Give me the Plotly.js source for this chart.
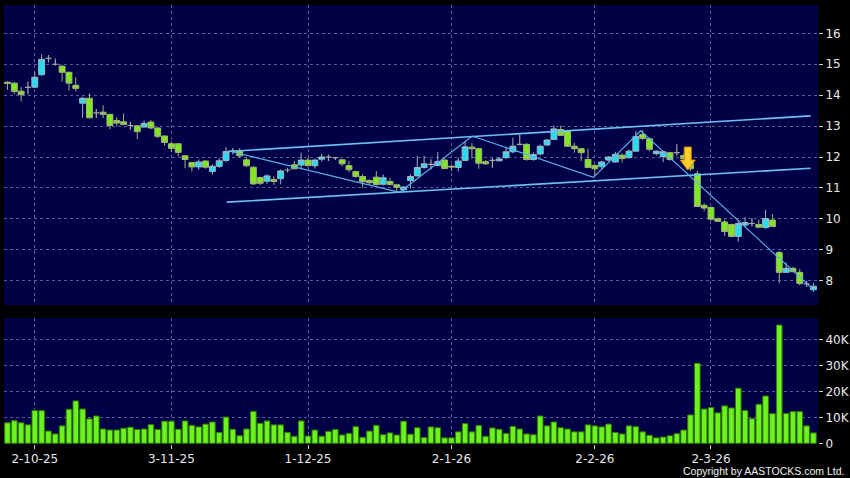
<!DOCTYPE html>
<html>
<head>
<meta charset="utf-8">
<script src="https://cdn.plot.ly/plotly-3.0.1.min.js"></script>
<style>html,body{margin:0;padding:0;background:#000;}#chart{width:850px;height:478px;}</style>
</head>
<body>
<div id="chart"></div>
<script>
// trading-day index 0..118 (25 Sep 2025 .. 23 Mar 2026)
const openP = [14.42,14.39,14.13,14.25,14.26,14.66,15.19,15.00,14.94,14.74,14.32,13.74,13.90,13.43,13.45,13.38,13.18,13.14,13.02,13.01,
12.97,13.13,12.94,12.68,12.43,12.43,12.04,11.82,11.68,11.87,11.53,11.70,11.89,12.20,12.20,11.91,11.67,11.34,11.22,11.27,
11.30,11.58,11.75,11.74,11.90,11.72,11.93,12.00,11.98,11.91,11.72,11.53,11.37,11.24,11.35,11.12,11.21,11.10,10.94,11.24,
11.39,11.66,11.76,11.73,11.90,11.70,11.66,11.89,12.32,12.27,11.85,11.89,11.88,11.98,12.17,12.41,12.41,11.92,12.10,12.39,
12.57,12.89,12.84,12.35,12.27,11.92,11.73,11.69,11.90,11.84,12.06,11.98,12.19,12.73,12.59,12.11,12.02,12.14,12.14,12.05,
11.88,11.46,10.44,10.37,10.00,9.90,9.82,9.43,9.80,9.85,9.82,9.72,9.96,8.91,8.27,8.40,8.27,7.90,7.71];
const highP = [14.45,14.42,14.26,14.44,14.76,15.32,15.30,15.19,14.98,14.76,14.58,13.95,14.06,13.55,13.67,13.40,13.29,13.41,13.13,13.03,
13.18,13.20,12.96,12.70,12.50,12.45,12.06,11.84,11.92,11.90,11.76,11.96,12.32,12.29,12.29,12.00,11.70,11.36,11.44,11.38,
11.60,11.65,11.87,12.14,11.98,11.95,12.10,12.08,12.00,11.94,11.87,11.56,11.45,11.28,11.55,11.44,11.33,11.13,11.05,11.44,
12.03,12.03,11.93,12.17,11.95,11.75,11.98,12.52,12.45,12.30,11.90,11.97,12.00,12.30,12.62,12.73,12.45,12.15,12.40,12.58,
13.02,13.02,12.86,12.46,12.30,12.27,11.76,11.88,12.03,12.17,12.12,12.25,12.84,12.87,12.63,12.22,12.20,12.17,12.41,12.10,
11.95,11.55,10.50,10.40,10.05,9.98,9.84,9.93,10.06,10.02,9.97,10.29,10.15,8.96,8.59,8.45,8.38,8.00,7.92];
const lowP = [14.17,14.03,13.80,14.03,14.24,14.63,15.06,14.96,14.44,14.15,14.12,13.27,13.25,13.26,13.26,12.90,12.99,13.03,12.88,12.58,
12.95,12.90,12.61,12.37,12.16,12.02,11.64,11.53,11.58,11.62,11.43,11.64,11.83,12.08,11.97,11.68,11.09,11.09,11.13,11.10,
11.12,11.50,11.60,11.60,11.70,11.63,11.86,11.87,11.90,11.70,11.51,11.33,11.00,11.10,11.08,11.08,11.08,10.90,10.87,10.98,
11.37,11.62,11.60,11.70,11.60,11.54,11.54,11.87,11.95,11.62,11.75,11.65,11.85,11.94,12.12,12.38,11.88,11.88,12.05,12.35,
12.55,12.68,12.33,12.14,11.87,11.64,11.39,11.60,11.86,11.82,11.82,11.95,12.17,12.55,12.20,12.05,11.84,11.88,12.05,11.90,
11.55,10.38,10.25,9.94,9.90,9.45,9.40,9.26,9.73,9.75,9.70,9.67,9.74,7.91,8.25,8.28,7.85,7.80,7.63];
const closeP = [14.38,14.12,14.02,14.25,14.58,15.16,15.19,15.00,14.74,14.39,14.22,13.90,13.27,13.43,13.38,13.02,13.10,13.05,13.02,12.82,
13.09,12.94,12.67,12.47,12.28,12.15,11.92,11.68,11.84,11.67,11.70,11.88,12.18,12.20,12.04,11.72,11.13,11.15,11.39,11.21,
11.55,11.58,11.62,11.90,11.72,11.90,12.00,12.00,11.98,11.78,11.59,11.37,11.20,11.17,11.11,11.33,11.11,11.02,11.03,11.37,
11.66,11.78,11.76,11.85,11.63,11.68,11.87,12.33,12.27,11.80,11.78,11.89,11.94,12.17,12.35,12.41,11.92,12.08,12.35,12.55,
12.91,12.70,12.35,12.27,12.14,11.66,11.62,11.84,12.00,12.09,11.95,12.19,12.66,12.60,12.25,12.19,12.17,11.92,12.14,11.95,
11.62,10.40,10.35,9.99,9.92,9.59,9.43,9.85,9.88,9.85,9.73,10.01,9.75,8.27,8.40,8.29,7.91,7.90,7.82];
const volumeK = [7.9,8.7,7.9,7.1,12.6,12.6,4.7,3.6,6.7,13.1,16.3,13.2,9.4,10.5,5.5,5.1,5.1,5.8,6.2,5.3,
5.5,7.2,5.3,8.5,8.5,5.4,8.6,6.9,6.3,7.4,8.2,4.2,10.1,5.4,2.9,5.5,12.3,7.7,8.6,7.1,
7.1,4.2,2.7,8.6,2.8,5.1,2.7,4.6,5.3,3.2,3.8,6.4,2.3,4.7,6.9,3.3,4.0,3.2,8.5,3.5,
6.0,2.2,6.3,6.0,2.1,2.1,4.4,7.6,4.4,6.9,2.7,5.9,5.4,3.8,6.5,5.5,3.6,3.3,10.5,6.7,
8.2,6.0,5.5,4.4,4.4,7.1,6.7,6.3,7.4,4.2,3.6,6.7,6.4,4.4,3.1,2.1,2.4,2.9,3.7,5.1,
10.9,30.8,13.2,13.8,11.7,14.4,13.6,21.2,12.6,9.5,15.0,18.2,11.4,45.5,11.5,12.2,12.2,6.7,4.0];
const tickIdx = [4,24,44,65,86,103];
const tickLabels = ['2-10-25','3-11-25','1-12-25','2-1-26','2-2-26','2-3-26'];
const priceTicks = [8,9,10,11,12,13,14,15,16];
const volTicks = [0,10000,20000,30000,40000];
const volTickLabels = ['0','10K','20K','30K','40K'];
// drawn trend lines (index, price)
const channelUpperX = [32.3,117.6], channelUpperY = [12.18,13.33];
const channelLowerX = [32.1,117.6], channelLowerY = [10.54,11.635];
const zigzagX = [32.4,57.4,68.05,85.8,92.7,117.8];
const zigzagY = [12.195,10.86,12.68,11.344,12.85,7.75];
const signalIdx = 99.6, signalPrice = 11.58;

const idx = openP.map((_, i) => i);
const isDoji = i => openP[i] === closeP[i];
const pick = (arr, f) => idx.filter(f).map(i => arr[i]);
const notD = i => !isDoji(i);

const traces = [
  {type:'bar', x: idx, y: volumeK.map(v => v*1000), yaxis:'y2', width:0.82,
   marker:{color:'#6cf21c', line:{color:'#2f7a06', width:1}}, hoverinfo:'skip'},
  {type:'candlestick', x: idx.filter(notD), open: pick(openP,notD), high: pick(highP,notD),
   low: pick(lowP,notD), close: pick(closeP,notD), yaxis:'y',
   increasing:{fillcolor:'#26dcef', line:{color:'#9ab8c4', width:1}},
   decreasing:{fillcolor:'#7fe81e', line:{color:'#9fb676', width:1}}, whiskerwidth:0, hoverinfo:'skip'},
  {type:'candlestick', x: idx.filter(isDoji), open: pick(openP,isDoji), high: pick(highP,isDoji),
   low: pick(lowP,isDoji), close: pick(closeP,isDoji), yaxis:'y',
   increasing:{fillcolor:'#a0a0a0', line:{color:'#a8a8a8', width:1.2}},
   decreasing:{fillcolor:'#a0a0a0', line:{color:'#a8a8a8', width:1.2}}, whiskerwidth:0, hoverinfo:'skip'},
  {type:'scatter', mode:'lines', x: channelUpperX, y: channelUpperY, yaxis:'y', line:{color:'#6cc0f4', width:1.6}, hoverinfo:'skip'},
  {type:'scatter', mode:'lines', x: channelLowerX, y: channelLowerY, yaxis:'y', line:{color:'#6cc0f4', width:1.6}, hoverinfo:'skip'},
  {type:'scatter', mode:'lines', x: zigzagX, y: zigzagY, yaxis:'y', line:{color:'#5ab4ec', width:1.1}, hoverinfo:'skip'}
];

const gridC = 'rgba(115,115,165,0.8)';
const font = {family:'DejaVu Sans, Verdana, sans-serif', size:12, color:'#e8e8e8'};
const layout = {
  width:850, height:478, paper_bgcolor:'#000000', plot_bgcolor:'#000046',
  margin:{l:4, r:32, t:5, b:34}, showlegend:false, hovermode:false,
  boxgap:0.08, boxgroupgap:0.06,
  font: font,
  xaxis:{range:[-0.51,118.67], anchor:'y2', tickmode:'array', tickvals:tickIdx, ticktext:tickLabels,
    ticks:'outside', ticklen:4, tickcolor:'#cccccc', showgrid:true, gridcolor:gridC, griddash:'3px,3px', gridwidth:1,
    zeroline:false, showline:false, rangeslider:{visible:false}, tickfont:font, fixedrange:true},
  yaxis:{domain:[0.3166,1], side:'right', range:[7.214,16.917], tickmode:'array', tickvals:priceTicks,
    ticks:'outside', ticklen:4, tickcolor:'#cccccc', showgrid:true, gridcolor:gridC, griddash:'3px,3px',
    zeroline:false, showline:false, tickfont:font, fixedrange:true},
  yaxis2:{domain:[0,0.287], side:'right', range:[-270,48200], tickmode:'array', tickvals:volTicks, ticktext:volTickLabels,
    ticks:'outside', ticklen:4, tickcolor:'#cccccc', showgrid:true, gridcolor:gridC, griddash:'3px,3px',
    zeroline:false, showline:false, tickfont:font, fixedrange:true},
  shapes:[{type:'path', xref:'x', yref:'y', xsizemode:'pixel', ysizemode:'pixel',
    xanchor:signalIdx, yanchor:signalPrice,
    path:'M -3.5 23 L 3.5 23 L 3.5 10 L 7.5 10 L 0 0 L -7.5 10 L -3.5 10 Z',
    fillcolor:'#ffcf2e', line:{color:'#d98a00', width:1}}],
  annotations:[{text:'Copyright by AASTOCKS.com Ltd.', xref:'paper', yref:'paper', x:1, xshift:28, xanchor:'right',
    y:-0.0615, yanchor:'middle', showarrow:false, font:{family:'Liberation Sans, Arial, sans-serif', size:10.5, color:'#f0f0f0'}}]
};
Plotly.newPlot('chart', traces, layout, {staticPlot:true, displayModeBar:false});
</script>
</body>
</html>
